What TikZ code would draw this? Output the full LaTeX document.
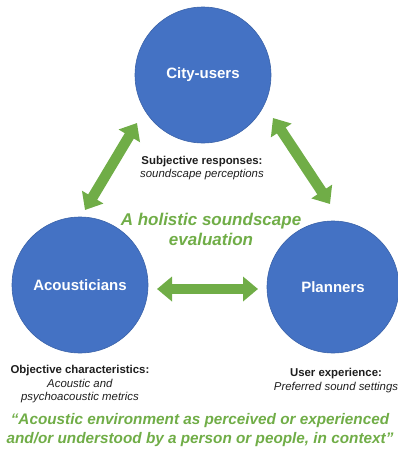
\documentclass[tikz,border=0pt]{standalone}
\usepackage{fontspec}
\setmainfont{Liberation Sans}
\usetikzlibrary{arrows.meta}
\definecolor{cblue}{HTML}{4472C4}
\definecolor{cedge}{HTML}{3A62A8}
\definecolor{cgreen}{HTML}{70AD47}
\definecolor{ctext}{HTML}{1E1E1E}
\begin{document}
\begin{tikzpicture}[x=1pt,y=-1pt,
  actor/.style={circle,fill=cblue,draw=cedge,line width=0.6pt,minimum size=136pt,inner sep=0pt,
    text=white,font={\fontsize{15}{18}\selectfont\bfseries}},
  note/.style={align=center,text=ctext,font={\fontsize{11.4}{13.5}\selectfont}},
  greentext/.style={align=center,text=cgreen,font={\bfseries\itshape}},
  bigarrow/.style={draw=cgreen,line width=10.5pt,
    {Triangle[width=24pt,length=15pt]}-{Triangle[width=24pt,length=15pt]}}]
\useasboundingbox (0,0) rectangle (398,450);
\node[actor] (city) at (203,75) {City-users};
\node[actor] (acou) at (80,285) {Acousticians};
\node[actor,minimum size=132pt] (plan) at (333,287) {Planners};
\coordinate (l1) at (85,210);
\coordinate (l2) at (137,123);
\coordinate (r1) at (273,118);
\coordinate (r2) at (330,204);
\coordinate (h1) at (157,289);
\coordinate (h2) at (258,289);
\draw[bigarrow] (l1) -- (l2);
\draw[bigarrow] (r1) -- (r2);
\draw[bigarrow] (h1) -- (h2);
\node[note] (subj) at (202,168) {\textbf{Subjective responses:}\\\textit{soundscape perceptions}};
\node[greentext,font={\fontsize{17}{19.5}\selectfont\bfseries\itshape}] (holi) at (211,229.5) {A holistic soundscape\\evaluation};
\node[note] (obj) at (80,384.5) {\textbf{Objective characteristics:}\\\textit{Acoustic and}\\\textit{psychoacoustic metrics}};
\node[note] (user) at (336,380.5) {\textbf{User experience:}\\\textit{Preferred sound settings}};
\node[greentext,font={\fontsize{15.3}{18.5}\selectfont\bfseries\itshape}] (quote) at (200,430) {“Acoustic environment as perceived or experienced\\and/or understood by a person or people, in context”};
\end{tikzpicture}
\end{document}
